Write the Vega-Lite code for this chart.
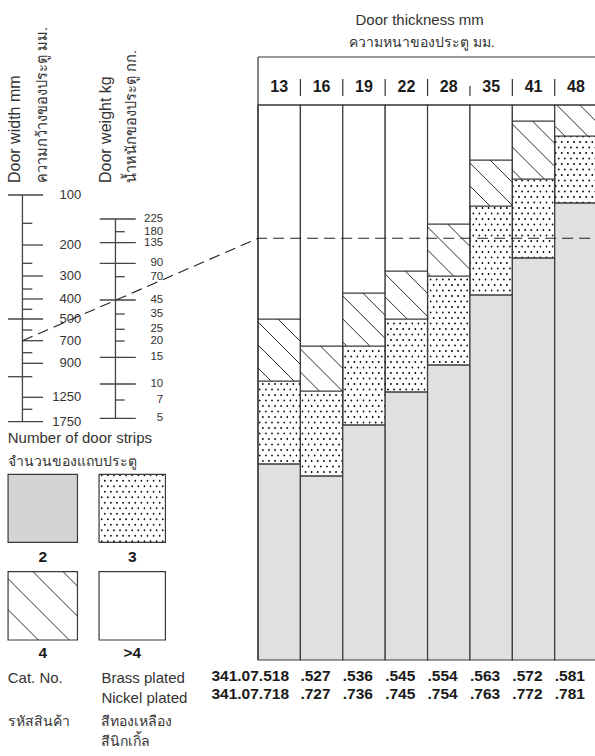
{
  "$schema": "https://vega.github.io/schema/vega-lite/v6.json",
  "width": 337,
  "height": 555,
  "autosize": {"type": "none"},
  "padding": {"left": 258, "top": 105, "right": 0, "bottom": 96},
  "background": "#ffffff",
  "config": {
    "view": {"stroke": null},
    "text": {"font": "Liberation Sans, Noto Sans, DejaVu Sans, sans-serif", "color": "#333333"}
  },
  "datasets": {
    "segments": [
      {"thickness": "13", "c0": 0, "c1": 1, "strips": "2", "lo": 0, "hi": 196},
      {"thickness": "13", "c0": 0, "c1": 1, "strips": "3", "lo": 196, "hi": 279},
      {"thickness": "13", "c0": 0, "c1": 1, "strips": "4", "lo": 279, "hi": 341},
      {"thickness": "13", "c0": 0, "c1": 1, "strips": ">4", "lo": 341, "hi": 555},
      {"thickness": "16", "c0": 1, "c1": 2, "strips": "2", "lo": 0, "hi": 184},
      {"thickness": "16", "c0": 1, "c1": 2, "strips": "3", "lo": 184, "hi": 269},
      {"thickness": "16", "c0": 1, "c1": 2, "strips": "4", "lo": 269, "hi": 314},
      {"thickness": "16", "c0": 1, "c1": 2, "strips": ">4", "lo": 314, "hi": 555},
      {"thickness": "19", "c0": 2, "c1": 3, "strips": "2", "lo": 0, "hi": 235},
      {"thickness": "19", "c0": 2, "c1": 3, "strips": "3", "lo": 235, "hi": 314},
      {"thickness": "19", "c0": 2, "c1": 3, "strips": "4", "lo": 314, "hi": 367},
      {"thickness": "19", "c0": 2, "c1": 3, "strips": ">4", "lo": 367, "hi": 555},
      {"thickness": "22", "c0": 3, "c1": 4, "strips": "2", "lo": 0, "hi": 268},
      {"thickness": "22", "c0": 3, "c1": 4, "strips": "3", "lo": 268, "hi": 341},
      {"thickness": "22", "c0": 3, "c1": 4, "strips": "4", "lo": 341, "hi": 389},
      {"thickness": "22", "c0": 3, "c1": 4, "strips": ">4", "lo": 389, "hi": 555},
      {"thickness": "28", "c0": 4, "c1": 5, "strips": "2", "lo": 0, "hi": 295},
      {"thickness": "28", "c0": 4, "c1": 5, "strips": "3", "lo": 295, "hi": 384},
      {"thickness": "28", "c0": 4, "c1": 5, "strips": "4", "lo": 384, "hi": 436},
      {"thickness": "28", "c0": 4, "c1": 5, "strips": ">4", "lo": 436, "hi": 555},
      {"thickness": "35", "c0": 5, "c1": 6, "strips": "2", "lo": 0, "hi": 365},
      {"thickness": "35", "c0": 5, "c1": 6, "strips": "3", "lo": 365, "hi": 454},
      {"thickness": "35", "c0": 5, "c1": 6, "strips": "4", "lo": 454, "hi": 500},
      {"thickness": "35", "c0": 5, "c1": 6, "strips": ">4", "lo": 500, "hi": 555},
      {"thickness": "41", "c0": 6, "c1": 7, "strips": "2", "lo": 0, "hi": 402},
      {"thickness": "41", "c0": 6, "c1": 7, "strips": "3", "lo": 402, "hi": 481},
      {"thickness": "41", "c0": 6, "c1": 7, "strips": "4", "lo": 481, "hi": 539},
      {"thickness": "41", "c0": 6, "c1": 7, "strips": ">4", "lo": 539, "hi": 555},
      {"thickness": "48", "c0": 7, "c1": 8, "strips": "2", "lo": 0, "hi": 457},
      {"thickness": "48", "c0": 7, "c1": 8, "strips": "3", "lo": 457, "hi": 524},
      {"thickness": "48", "c0": 7, "c1": 8, "strips": "4", "lo": 524, "hi": 555}
    ],
    "hatch": [
      {"thickness": "13", "c0": 0.472, "lo": 341, "c1": 1, "hi": 318.6},
      {"thickness": "13", "c0": 0, "lo": 338, "c1": 1, "hi": 295.6},
      {"thickness": "13", "c0": 0, "lo": 315, "c1": 0.849, "hi": 279},
      {"thickness": "13", "c0": 0, "lo": 292, "c1": 0.307, "hi": 279},
      {"thickness": "16", "c0": 1.472, "lo": 314, "c1": 2, "hi": 291.6},
      {"thickness": "16", "c0": 1, "lo": 311, "c1": 1.991, "hi": 269},
      {"thickness": "16", "c0": 1, "lo": 288, "c1": 1.448, "hi": 269},
      {"thickness": "19", "c0": 2.472, "lo": 367, "c1": 3, "hi": 344.6},
      {"thickness": "19", "c0": 2, "lo": 364, "c1": 3, "hi": 321.6},
      {"thickness": "19", "c0": 2, "lo": 341, "c1": 2.637, "hi": 314},
      {"thickness": "19", "c0": 2, "lo": 318, "c1": 2.094, "hi": 314},
      {"thickness": "22", "c0": 3.472, "lo": 389, "c1": 4, "hi": 366.6},
      {"thickness": "22", "c0": 3, "lo": 386, "c1": 4, "hi": 343.6},
      {"thickness": "22", "c0": 3, "lo": 363, "c1": 3.519, "hi": 341},
      {"thickness": "28", "c0": 4.472, "lo": 436, "c1": 5, "hi": 413.6},
      {"thickness": "28", "c0": 4, "lo": 433, "c1": 5, "hi": 390.6},
      {"thickness": "28", "c0": 4, "lo": 410, "c1": 4.613, "hi": 384},
      {"thickness": "28", "c0": 4, "lo": 387, "c1": 4.071, "hi": 384},
      {"thickness": "35", "c0": 5.472, "lo": 500, "c1": 6, "hi": 477.6},
      {"thickness": "35", "c0": 5, "lo": 497, "c1": 6, "hi": 454.6},
      {"thickness": "35", "c0": 5, "lo": 474, "c1": 5.472, "hi": 454},
      {"thickness": "41", "c0": 6.472, "lo": 539, "c1": 7, "hi": 516.6},
      {"thickness": "41", "c0": 6, "lo": 536, "c1": 7, "hi": 493.6},
      {"thickness": "41", "c0": 6, "lo": 513, "c1": 6.755, "hi": 481},
      {"thickness": "41", "c0": 6, "lo": 490, "c1": 6.212, "hi": 481},
      {"thickness": "48", "c0": 7.59, "lo": 555, "c1": 8, "hi": 537.6},
      {"thickness": "48", "c0": 7.047, "lo": 555, "c1": 7.778, "hi": 524},
      {"thickness": "48", "c0": 7, "lo": 534, "c1": 7.236, "hi": 524},
      {"thickness": "legend", "c0": -4.599, "lo": 88.3, "c1": -4.259, "hi": 73.9},
      {"thickness": "legend", "c0": -5.307, "lo": 88.3, "c1": -4.259, "hi": 43.9},
      {"thickness": "legend", "c0": -5.896, "lo": 81.3, "c1": -4.451, "hi": 20},
      {"thickness": "legend", "c0": -5.896, "lo": 50.3, "c1": -5.182, "hi": 20}
    ],
    "texture": [
      {"region": "chart", "band": "rows", "c0": 4, "lo": 1, "c1": 4, "hi": 556.5},
      {"region": "chart", "band": "diagA", "c0": -4.2543, "lo": 81.96, "c1": 12.2543, "hi": 470.04},
      {"region": "chart", "band": "diagB", "c0": -4.2543, "lo": 470.04, "c1": 12.2543, "hi": 81.96},
      {"region": "legend", "band": "rows", "c0": -2.967, "lo": 113.2, "c1": -2.967, "hi": 190.2},
      {"region": "legend", "band": "diagA", "c0": -4.0677, "lo": 125.83, "c1": -1.8663, "hi": 177.57},
      {"region": "legend", "band": "diagB", "c0": -4.0677, "lo": 177.57, "c1": -1.8663, "hi": 125.83}
    ],
    "legendBoxes": [
      {"strips": "2", "c0": -5.896, "c1": -4.259, "lo": 117.7, "hi": 185.7},
      {"strips": "3", "c0": -3.75, "c1": -2.184, "lo": 117.7, "hi": 185.7},
      {"strips": "4", "c0": -5.896, "c1": -4.259, "lo": 20, "hi": 88.3},
      {"strips": ">4", "c0": -3.75, "c1": -2.184, "lo": 20, "hi": 88.3}
    ],
    "ticks": [
      {"scale": "width", "value": "100", "lo": 465, "t0": -5.896, "t1": -5.071, "lx": -4.17},
      {"scale": "width", "value": "", "lo": 436.7, "t0": -5.557, "t1": -5.325, "lx": -4.17},
      {"scale": "width", "value": "200", "lo": 415, "t0": -5.557, "t1": -5.071, "lx": -4.17},
      {"scale": "width", "value": "", "lo": 396.7, "t0": -5.557, "t1": -5.325, "lx": -4.17},
      {"scale": "width", "value": "300", "lo": 384, "t0": -5.557, "t1": -5.071, "lx": -4.17},
      {"scale": "width", "value": "", "lo": 371, "t0": -5.557, "t1": -5.325, "lx": -4.17},
      {"scale": "width", "value": "400", "lo": 361, "t0": -5.557, "t1": -5.071, "lx": -4.17},
      {"scale": "width", "value": "", "lo": 350.7, "t0": -5.557, "t1": -5.325, "lx": -4.17},
      {"scale": "width", "value": "500", "lo": 341, "t0": -5.896, "t1": -5.071, "lx": -4.17},
      {"scale": "width", "value": "", "lo": 330, "t0": -5.557, "t1": -5.325, "lx": -4.17},
      {"scale": "width", "value": "700", "lo": 319.3, "t0": -5.557, "t1": -5.071, "lx": -4.17},
      {"scale": "width", "value": "", "lo": 307.3, "t0": -5.557, "t1": -5.325, "lx": -4.17},
      {"scale": "width", "value": "900", "lo": 296.7, "t0": -5.557, "t1": -5.071, "lx": -4.17},
      {"scale": "width", "value": "", "lo": 283.3, "t0": -5.896, "t1": -5.325, "lx": -4.17},
      {"scale": "width", "value": "1250", "lo": 262.7, "t0": -5.557, "t1": -5.071, "lx": -4.17},
      {"scale": "width", "value": "", "lo": 250.7, "t0": -5.557, "t1": -5.325, "lx": -4.17},
      {"scale": "width", "value": "1750", "lo": 238.3, "t0": -5.896, "t1": -5.071, "lx": -4.17},
      {"scale": "weight", "value": "225", "lo": 441, "t0": -3.733, "t1": -2.884, "lx": -2.236},
      {"scale": "weight", "value": "180", "lo": 428.3, "t0": -3.363, "t1": -3.144, "lx": -2.236},
      {"scale": "weight", "value": "135", "lo": 417.3, "t0": -3.733, "t1": -2.884, "lx": -2.236},
      {"scale": "weight", "value": "90", "lo": 396.7, "t0": -3.733, "t1": -2.884, "lx": -2.236},
      {"scale": "weight", "value": "70", "lo": 383.3, "t0": -3.363, "t1": -3.144, "lx": -2.236},
      {"scale": "weight", "value": "45", "lo": 360, "t0": -3.733, "t1": -2.884, "lx": -2.236},
      {"scale": "weight", "value": "35", "lo": 346, "t0": -3.363, "t1": -3.144, "lx": -2.236},
      {"scale": "weight", "value": "25", "lo": 330.7, "t0": -3.363, "t1": -3.144, "lx": -2.236},
      {"scale": "weight", "value": "20", "lo": 319, "t0": -3.363, "t1": -3.144, "lx": -2.236},
      {"scale": "weight", "value": "15", "lo": 302.7, "t0": -3.733, "t1": -2.884, "lx": -2.236},
      {"scale": "weight", "value": "10", "lo": 276, "t0": -3.733, "t1": -2.884, "lx": -2.236},
      {"scale": "weight", "value": "7", "lo": 260, "t0": -3.363, "t1": -3.144, "lx": -2.236},
      {"scale": "weight", "value": "5", "lo": 241.7, "t0": -3.733, "t1": -2.884, "lx": -2.236}
    ],
    "axes": [
      {"scale": "width", "c0": -5.557, "lo": 238.3, "hi": 465},
      {"scale": "weight", "c0": -3.363, "lo": 241.7, "hi": 441}
    ],
    "frame": [
      {"part": "top", "c0": 0, "c1": 8, "lo": 603, "hi": 603},
      {"part": "left", "c0": 0, "c1": 0, "lo": 0, "hi": 603},
      {"part": "header", "c0": 0, "c1": 8, "lo": 555, "hi": 555},
      {"part": "sep", "c0": 1, "c1": 1, "lo": 564, "hi": 581},
      {"part": "sep", "c0": 2, "c1": 2, "lo": 564, "hi": 581},
      {"part": "sep", "c0": 3, "c1": 3, "lo": 564, "hi": 581},
      {"part": "sep", "c0": 4, "c1": 4, "lo": 564, "hi": 581},
      {"part": "sep", "c0": 5, "c1": 5, "lo": 564, "hi": 574},
      {"part": "sep", "c0": 6, "c1": 6, "lo": 564, "hi": 581},
      {"part": "sep", "c0": 7, "c1": 7, "lo": 564, "hi": 581}
    ],
    "dashed": [
      {"k": 1, "c0": -5.557, "lo": 319.3},
      {"k": 2, "c0": 0, "lo": 421.7},
      {"k": 3, "c0": 8, "lo": 421.7}
    ],
    "texts": [
      {"kind": "header", "text": "13", "c0": 0, "lo": 573},
      {"kind": "header", "text": "16", "c0": 1, "lo": 573},
      {"kind": "header", "text": "19", "c0": 2, "lo": 573},
      {"kind": "header", "text": "22", "c0": 3, "lo": 573},
      {"kind": "header", "text": "28", "c0": 4, "lo": 573},
      {"kind": "header", "text": "35", "c0": 5, "lo": 573},
      {"kind": "header", "text": "41", "c0": 6, "lo": 573},
      {"kind": "header", "text": "48", "c0": 7, "lo": 573},
      {"kind": "codeFirst", "text": "341.07.518", "c0": 0, "lo": -16},
      {"kind": "codeFirst", "text": "341.07.718", "c0": 0, "lo": -34},
      {"kind": "code", "text": ".527", "c0": 1, "lo": -16},
      {"kind": "code", "text": ".536", "c0": 2, "lo": -16},
      {"kind": "code", "text": ".545", "c0": 3, "lo": -16},
      {"kind": "code", "text": ".554", "c0": 4, "lo": -16},
      {"kind": "code", "text": ".563", "c0": 5, "lo": -16},
      {"kind": "code", "text": ".572", "c0": 6, "lo": -16},
      {"kind": "code", "text": ".581", "c0": 7, "lo": -16},
      {"kind": "code", "text": ".727", "c0": 1, "lo": -34},
      {"kind": "code", "text": ".736", "c0": 2, "lo": -34},
      {"kind": "code", "text": ".745", "c0": 3, "lo": -34},
      {"kind": "code", "text": ".754", "c0": 4, "lo": -34},
      {"kind": "code", "text": ".763", "c0": 5, "lo": -34},
      {"kind": "code", "text": ".772", "c0": 6, "lo": -34},
      {"kind": "code", "text": ".781", "c0": 7, "lo": -34},
      {"kind": "title", "text": "Door thickness mm", "c0": 3.814, "lo": 640},
      {"kind": "titleThai", "text": "ความหนาของประตู  มม.", "c0": 3.861, "lo": 617},
      {"kind": "rotated", "text": "Door width mm", "c0": -5.62, "lo": 477},
      {"kind": "rotatedThai", "text": "ความกว้างของประตู  มม.", "c0": -4.972, "lo": 477},
      {"kind": "rotated", "text": "Door weight kg", "c0": -3.458, "lo": 477},
      {"kind": "rotatedThai", "text": "น้ำหนักของประตู  กก.", "c0": -2.868, "lo": 477},
      {"kind": "body", "text": "Number of door strips", "c0": -5.903, "lo": 222},
      {"kind": "bodyThai", "text": "จำนวนของแถบประตู", "c0": -5.903, "lo": 198},
      {"kind": "body", "text": "Cat. No.", "c0": -5.903, "lo": -18},
      {"kind": "body", "text": "Brass plated", "c0": -3.693, "lo": -18},
      {"kind": "body", "text": "Nickel plated", "c0": -3.693, "lo": -38},
      {"kind": "bodyThai", "text": "รหัสสินค้า", "c0": -5.903, "lo": -62},
      {"kind": "bodyThai", "text": "สีทองเหลือง", "c0": -3.693, "lo": -62},
      {"kind": "bodyThai", "text": "สีนิกเกิ้ล", "c0": -3.693, "lo": -82},
      {"kind": "legend", "text": "2", "c0": -5.078, "lo": 103.3},
      {"kind": "legend", "text": "3", "c0": -2.967, "lo": 103.3},
      {"kind": "legend", "text": "4", "c0": -5.078, "lo": 7},
      {"kind": "legend", "text": ">4", "c0": -2.967, "lo": 7}
    ]
  },
  "encoding": {
    "x": {"field": "c0", "type": "quantitative", "scale": {"domain": [0, 7.95], "nice": false, "zero": false}, "axis": null},
    "y": {"field": "lo", "type": "quantitative", "scale": {"domain": [0, 555], "nice": false, "zero": false}, "axis": null}
  },
  "layer": [
    {
      "data": {"name": "segments"},
      "transform": [{"filter": "datum.strips === '3'"}],
      "mark": {"type": "rect", "fill": "#111111"},
      "encoding": {"x2": {"field": "c1"}, "y2": {"field": "hi"}}
    },
    {
      "data": {"name": "legendBoxes"},
      "transform": [{"filter": "datum.strips === '3'"}],
      "mark": {"type": "rect", "fill": "#111111"},
      "encoding": {"x2": {"field": "c1"}, "y2": {"field": "hi"}}
    },
    {
      "data": {"name": "texture"},
      "transform": [{"filter": "datum.region === 'chart' && datum.band === 'rows'"}],
      "mark": {"type": "rule", "color": "#ffffff", "strokeWidth": 342, "strokeDash": [3.6, 1.9], "strokeDashOffset": 4.55, "clip": true},
      "encoding": {"x2": {"field": "c1"}, "y2": {"field": "hi"}}
    },
    {
      "data": {"name": "texture"},
      "transform": [{"filter": "datum.region === 'chart' && datum.band !== 'rows'"}],
      "mark": {"type": "rule", "color": "#ffffff", "strokeWidth": 660, "strokeDash": [3.5346, 1.8], "strokeDashOffset": 4.4346, "clip": true},
      "encoding": {"x2": {"field": "c1"}, "y2": {"field": "hi"}}
    },
    {
      "data": {"name": "texture"},
      "transform": [{"filter": "datum.region === 'legend' && datum.band === 'rows'"}],
      "mark": {"type": "rule", "color": "#ffffff", "strokeWidth": 66.4, "strokeDash": [3.6, 1.9], "strokeDashOffset": 4.55},
      "encoding": {"x2": {"field": "c1"}, "y2": {"field": "hi"}}
    },
    {
      "data": {"name": "texture"},
      "transform": [{"filter": "datum.region === 'legend' && datum.band !== 'rows'"}],
      "mark": {"type": "rule", "color": "#ffffff", "strokeWidth": 120, "strokeDash": [3.5346, 1.8], "strokeDashOffset": 4.4346},
      "encoding": {"x2": {"field": "c1"}, "y2": {"field": "hi"}}
    },
    {
      "data": {"name": "segments"},
      "mark": {"type": "rect", "stroke": "#3a3a3a", "strokeWidth": 1.2},
      "encoding": {
        "x2": {"field": "c1"},
        "y2": {"field": "hi"},
        "fill": {"condition": [{"test": "datum.strips === '2'", "value": "#dfe0e2"}, {"test": "datum.strips === '3'", "value": "transparent"}], "value": "#ffffff"}
      }
    },
    {
      "data": {"name": "legendBoxes"},
      "mark": {"type": "rect", "stroke": "#3a3a3a", "strokeWidth": 1.2},
      "encoding": {
        "x2": {"field": "c1"},
        "y2": {"field": "hi"},
        "fill": {"condition": [{"test": "datum.strips === '2'", "value": "#d3d4d6"}, {"test": "datum.strips === '3'", "value": "transparent"}], "value": "#ffffff"}
      }
    },
    {
      "data": {"name": "hatch"},
      "mark": {"type": "rule", "color": "#2e2e2e", "strokeWidth": 1},
      "encoding": {"x2": {"field": "c1"}, "y2": {"field": "hi"}}
    },
    {
      "data": {"name": "axes"},
      "mark": {"type": "rule", "color": "#444444", "strokeWidth": 1.3},
      "encoding": {"y2": {"field": "hi"}}
    },
    {
      "data": {"name": "ticks"},
      "mark": {"type": "rule", "color": "#444444", "strokeWidth": 1.3},
      "encoding": {"x": {"field": "t0", "type": "quantitative"}, "x2": {"field": "t1"}}
    },
    {
      "data": {"name": "ticks"},
      "transform": [{"filter": "datum.scale === 'width' && datum.value !== ''"}],
      "mark": {"type": "text", "align": "right", "baseline": "middle", "fontSize": 13},
      "encoding": {"x": {"field": "lx", "type": "quantitative"}, "text": {"field": "value"}}
    },
    {
      "data": {"name": "ticks"},
      "transform": [{"filter": "datum.scale === 'weight'"}],
      "mark": {"type": "text", "align": "right", "baseline": "middle", "fontSize": 11.5},
      "encoding": {"x": {"field": "lx", "type": "quantitative"}, "text": {"field": "value"}}
    },
    {
      "data": {"name": "frame"},
      "mark": {"type": "rule", "color": "#333333", "strokeWidth": 1.2},
      "encoding": {"x2": {"field": "c1"}, "y2": {"field": "hi"}}
    },
    {
      "data": {"name": "dashed"},
      "mark": {"type": "line", "color": "#222222", "strokeWidth": 1.1, "strokeDash": [11, 6]},
      "encoding": {"order": {"field": "k", "type": "quantitative"}}
    },
    {
      "data": {"name": "texts"},
      "transform": [{"filter": "datum.kind === 'header'"}],
      "mark": {"type": "text", "align": "center", "baseline": "middle", "fontSize": 16, "fontWeight": "bold", "dx": 21.2, "color": "#1a1a1a"},
      "encoding": {"text": {"field": "text"}}
    },
    {
      "data": {"name": "texts"},
      "transform": [{"filter": "datum.kind === 'code'"}],
      "mark": {"type": "text", "align": "left", "baseline": "middle", "fontSize": 15.5, "fontWeight": "bold", "color": "#1a1a1a"},
      "encoding": {"text": {"field": "text"}}
    },
    {
      "data": {"name": "texts"},
      "transform": [{"filter": "datum.kind === 'codeFirst'"}],
      "mark": {"type": "text", "align": "right", "baseline": "middle", "fontSize": 15.5, "fontWeight": "bold", "dx": 31, "color": "#1a1a1a"},
      "encoding": {"text": {"field": "text"}}
    },
    {
      "data": {"name": "texts"},
      "transform": [{"filter": "datum.kind === 'title'"}],
      "mark": {"type": "text", "align": "center", "baseline": "middle", "fontSize": 15},
      "encoding": {"text": {"field": "text"}}
    },
    {
      "data": {"name": "texts"},
      "transform": [{"filter": "datum.kind === 'titleThai'"}],
      "mark": {"type": "text", "align": "center", "baseline": "middle", "fontSize": 14},
      "encoding": {"text": {"field": "text"}}
    },
    {
      "data": {"name": "texts"},
      "transform": [{"filter": "datum.kind === 'rotated'"}],
      "mark": {"type": "text", "align": "left", "baseline": "alphabetic", "angle": 270, "fontSize": 16},
      "encoding": {"text": {"field": "text"}}
    },
    {
      "data": {"name": "texts"},
      "transform": [{"filter": "datum.kind === 'rotatedThai'"}],
      "mark": {"type": "text", "align": "left", "baseline": "alphabetic", "angle": 270, "fontSize": 14.5},
      "encoding": {"text": {"field": "text"}}
    },
    {
      "data": {"name": "texts"},
      "transform": [{"filter": "datum.kind === 'body'"}],
      "mark": {"type": "text", "align": "left", "baseline": "middle", "fontSize": 15},
      "encoding": {"text": {"field": "text"}}
    },
    {
      "data": {"name": "texts"},
      "transform": [{"filter": "datum.kind === 'bodyThai'"}],
      "mark": {"type": "text", "align": "left", "baseline": "middle", "fontSize": 14},
      "encoding": {"text": {"field": "text"}}
    },
    {
      "data": {"name": "texts"},
      "transform": [{"filter": "datum.kind === 'legend'"}],
      "mark": {"type": "text", "align": "center", "baseline": "middle", "fontSize": 15.5, "fontWeight": "bold", "color": "#1a1a1a"},
      "encoding": {"text": {"field": "text"}}
    }
  ]
}
